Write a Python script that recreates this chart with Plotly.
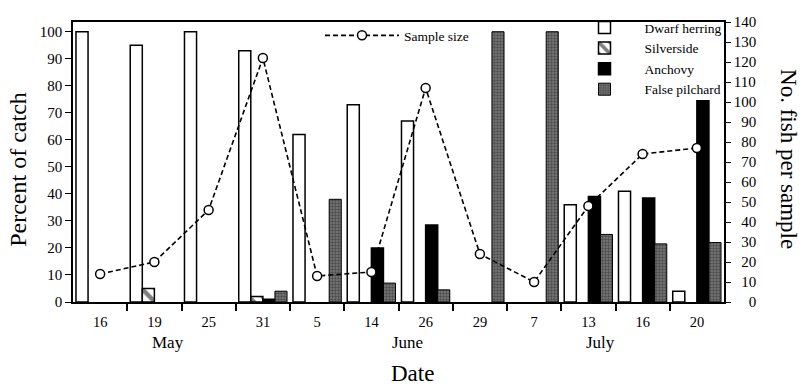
import plotly.graph_objects as go

dates = ["16", "19", "25", "31", "5", "14", "26", "29", "7", "13", "16", "20"]
months = ["May", "June", "July"]
dwarf_herring = [100, 95, 100, 93, 62, 73, 67, 0, 0, 36, 41, 4]
silverside = [0, 5, 0, 2, 0, 0, 0, 0, 0, 0, 0, 0]
anchovy = [0, 0, 0, 1, 0, 20, 28.5, 0, 0, 39, 38.5, 74.5]
false_pilchard = [0, 0, 0, 4, 38, 7, 4.5, 100, 100, 25, 21.5, 22]
sample_size = [14, 20, 46, 122, 13, 15, 107, 24, 10, 48, 74, 77]
left_ticks = list(range(0, 101, 10))
right_ticks = list(range(0, 141, 10))

x = list(range(len(dates)))
FONT = "Liberation Serif"


def hide_zero(vals):
    # no bar is drawn where a species was absent
    return [v if v else None for v in vals]


fig = go.Figure()
fig.add_trace(go.Bar(x=x, y=hide_zero(dwarf_herring), name="Dwarf herring",
                     marker=dict(color="white", line=dict(color="black", width=1.5))))
fig.add_trace(go.Bar(x=x, y=hide_zero(silverside), name="Silverside",
                     marker=dict(color="white", line=dict(color="black", width=1.5),
                                 pattern=dict(shape="\\", fgcolor="black", bgcolor="white",
                                              size=10, solidity=0.45))))
fig.add_trace(go.Bar(x=x, y=hide_zero(anchovy), name="Anchovy",
                     marker=dict(color="black", line=dict(color="black", width=1.5))))
fig.add_trace(go.Bar(x=x, y=hide_zero(false_pilchard), name="False pilchard",
                     marker=dict(color="#777777", line=dict(color="black", width=1),
                                 pattern=dict(shape=".", fgcolor="#1e1e1e", bgcolor="#7a7a7a",
                                              size=3, solidity=0.5))))
fig.add_trace(go.Scatter(x=x, y=sample_size, yaxis="y2", name="Sample size",
                         mode="lines+markers", legend="legend2",
                         line=dict(color="black", width=1.6, dash="5px,3px"),
                         marker=dict(symbol="circle", size=9, color="white",
                                     line=dict(color="black", width=1.5))))

fig.update_layout(
    width=804, height=388,
    margin=dict(l=73, r=80, t=14, b=86),
    paper_bgcolor="white", plot_bgcolor="white",
    font=dict(family=FONT, color="black", size=15),
    barmode="group", bargap=0.11, bargroupgap=0,
    xaxis=dict(range=[-0.5, len(dates) - 0.5], tickvals=x, ticktext=dates,
               ticks="outside", ticklen=6, tickcolor="rgba(0,0,0,0)",
               tickfont=dict(size=14.5),
               minor=dict(tickvals=[i + 0.5 for i in x[:-1]], ticks="outside",
                          ticklen=7, tickcolor="black", tickwidth=1.5),
               showline=True, linecolor="black", linewidth=2, mirror=True,
               showgrid=False, zeroline=False),
    yaxis=dict(range=[0, 103.6], tickvals=left_ticks, ticks="outside", ticklen=6,
               tickwidth=1.2, tickcolor="black", showline=True, linecolor="black",
               linewidth=1.5, showgrid=False, zeroline=False, tickfont=dict(size=15)),
    yaxis2=dict(range=[0, 140], tickvals=right_ticks,
                ticktext=[f"{v:>3}".replace(" ", "\u2007") for v in right_ticks],
                overlaying="y", side="right", ticks="outside", ticklen=5,
                tickwidth=1.2, tickcolor="black", showline=True, linecolor="black",
                linewidth=1.5, showgrid=False, zeroline=False, tickfont=dict(size=15)),
    legend=dict(x=(564.5 - 73) / 651, y=(302 - 4) / 288, xanchor="left", yanchor="top",
                bgcolor="rgba(0,0,0,0)", font=dict(size=13.5), itemwidth=70,
                tracegroupgap=0, traceorder="normal"),
    legend2=dict(x=(320 - 73) / 651, y=(302 - 12) / 288, xanchor="left", yanchor="top",
                 bgcolor="rgba(0,0,0,0)", font=dict(size=13.5), itemwidth=74),
    showlegend=True,
)

month_x = [(167.5 - 73) / 651, (408 - 73) / 651, (600 - 73) / 651]
for m, mx in zip(months, month_x):
    fig.add_annotation(text=m, x=mx, y=(302 - 344) / 288, xref="paper", yref="paper",
                       showarrow=False, font=dict(size=17), xanchor="center", yanchor="middle")
fig.add_annotation(text="Date", x=(412 - 73) / 651, y=(302 - 376) / 288, xref="paper",
                   yref="paper", showarrow=False, font=dict(size=23),
                   xanchor="center", yanchor="middle")
fig.add_annotation(text="Percent of catch", x=(18 - 73) / 651, y=(302 - 166) / 288,
                   xref="paper", yref="paper", showarrow=False, textangle=-90,
                   font=dict(size=24), xanchor="center", yanchor="middle")
fig.add_annotation(text="No. fish per sample", x=(789 - 73) / 651, y=(302 - 155) / 288,
                   xref="paper", yref="paper", showarrow=False, textangle=90,
                   font=dict(size=23), xanchor="center", yanchor="middle")

fig.write_html("out.html")
